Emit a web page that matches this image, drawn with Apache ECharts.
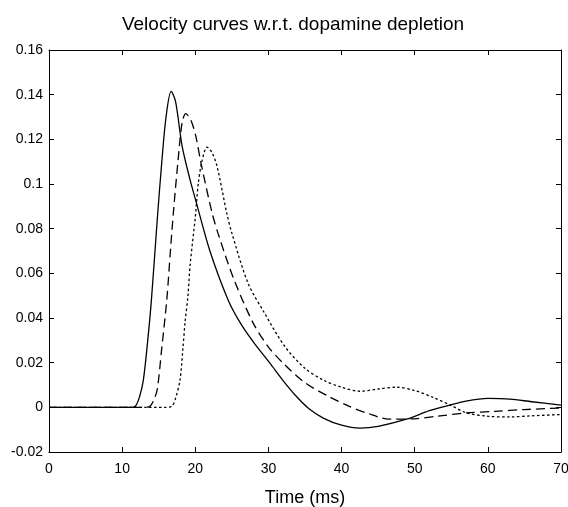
<!DOCTYPE html>
<html>
<head>
<meta charset="utf-8">
<script src="https://cdn.jsdelivr.net/npm/echarts@6/dist/echarts.min.js"></script>
<style>html,body{margin:0;padding:0;background:#fff;}#c{width:568px;height:507px;}</style>
</head>
<body>
<div id="c"></div>
<script>
var titleText = 'Velocity curves w.r.t. dopamine depletion';
var xName = 'Time (ms)';
var xTicks = [0, 10, 20, 30, 40, 50, 60, 70];
var yTicks = [-0.02, 0, 0.02, 0.04, 0.06, 0.08, 0.1, 0.12, 0.14, 0.16];

var solidCurve = [[0,0],[11,0],[11.8,0.0005],[12.4,0.005],[12.9,0.0122],[13.5,0.03],[14,0.048],[14.8,0.084],[15.4,0.109],[16,0.130],[16.7,0.1415],[17.3,0.137],[18.2,0.117],[19.2,0.103],[20.2,0.091],[22,0.070],[24.5,0.048],[26.3,0.037],[28,0.029],[30.2,0.0198],[32,0.012],[33.9,0.0046],[35.5,-0.0005],[37.5,-0.0048],[40,-0.008],[42.5,-0.0093],[45,-0.0085],[49,-0.0052],[52,-0.0015],[54.8,0.001],[57,0.0028],[60,0.0040],[63,0.0037],[66,0.0025],[70,0.001]];
var dashedCurve = [[0,0],[13,0],[13.8,0.0005],[14.3,0.003],[14.8,0.008],[15.4,0.026],[16.1,0.048],[16.6,0.07],[17,0.087],[17.6,0.109],[18.2,0.1275],[18.7,0.1315],[19.4,0.1286],[20.1,0.121],[20.8,0.109],[22.3,0.087],[23.1,0.078],[25.2,0.058],[27.9,0.0378],[30,0.027],[32,0.0198],[35,0.011],[38.4,0.0046],[41,0.0005],[43.5,-0.0026],[46.5,-0.0053],[49.5,-0.0052],[53,-0.004],[57,-0.0025],[61,-0.0018],[65,-0.001],[70,-0.0003]];
var dottedCurve = [[0,0],[16,0],[16.8,0.0005],[17.3,0.004],[17.9,0.012],[18.3,0.026],[18.6,0.038],[19,0.050],[19.3,0.064],[20,0.085],[20.4,0.100],[20.9,0.110],[21.6,0.1165],[22.3,0.114],[23,0.1076],[24.3,0.087],[25,0.078],[27.2,0.0557],[29.5,0.042],[32.3,0.027],[35,0.0175],[37.5,0.0122],[40,0.009],[42.5,0.0072],[45,0.0082],[47.5,0.0090],[50,0.0075],[52.5,0.0045],[55,0.0008],[57,-0.0024],[60,-0.0040],[63,-0.0043],[66,-0.0038],[70,-0.0032]];

var chart = echarts.init(document.getElementById('c'), null, {renderer: 'canvas'});
var FONT = 'Liberation Sans, Arial, sans-serif';
function fmt(v){ return String(parseFloat(v.toFixed(2))); }
var axisLineStyle = {color: '#000', width: 1};
function xAx(pos, showLabel){
  return {
    type: 'value', position: pos, min: xTicks[0], max: xTicks[xTicks.length-1], interval: 10,
    axisLine: {show: true, onZero: false, lineStyle: axisLineStyle},
    axisTick: {show: true, inside: true, length: 5, lineStyle: axisLineStyle},
    axisLabel: {show: showLabel, color: '#000', fontFamily: FONT, fontSize: 14, margin: 10, formatter: fmt},
    splitLine: {show: false},
    name: showLabel ? xName : '', nameLocation: 'middle', nameGap: 37,
    nameTextStyle: {color: '#000', fontFamily: FONT, fontSize: 18}
  };
}
function yAx(pos, showLabel){
  return {
    type: 'value', position: pos, min: yTicks[0], max: yTicks[yTicks.length-1], interval: 0.02,
    axisLine: {show: true, onZero: false, lineStyle: axisLineStyle},
    axisTick: {show: true, inside: true, length: 5, lineStyle: axisLineStyle},
    axisLabel: {show: showLabel, color: '#000', fontFamily: FONT, fontSize: 14, margin: 6, formatter: fmt},
    splitLine: {show: false}
  };
}
function line(data, dash){
  return {
    type: 'line', data: data, xAxisIndex: 0, yAxisIndex: 0, showSymbol: false, symbol: 'none',
    smooth: 0.3, animation: false,
    lineStyle: {color: '#000', width: 1.3, type: dash}
  };
}
chart.setOption({
  animation: false,
  backgroundColor: '#fff',
  title: {text: titleText, left: 288, textAlign: 'center', top: 10,
    textStyle: {color: '#000', fontFamily: FONT, fontSize: 19, fontWeight: 'normal'}},
  grid: {left: 49, top: 50, right: 7, bottom: 55, containLabel: false, outerBoundsMode: 'none'},
  xAxis: [xAx('bottom', true), xAx('top', false)],
  yAxis: [yAx('left', true), yAx('right', false)],
  series: [
    line(solidCurve, 'solid'),
    line(dashedCurve, [9, 5]),
    line(dottedCurve, [2.5, 2.5])
  ]
});
</script>
</body>
</html>
